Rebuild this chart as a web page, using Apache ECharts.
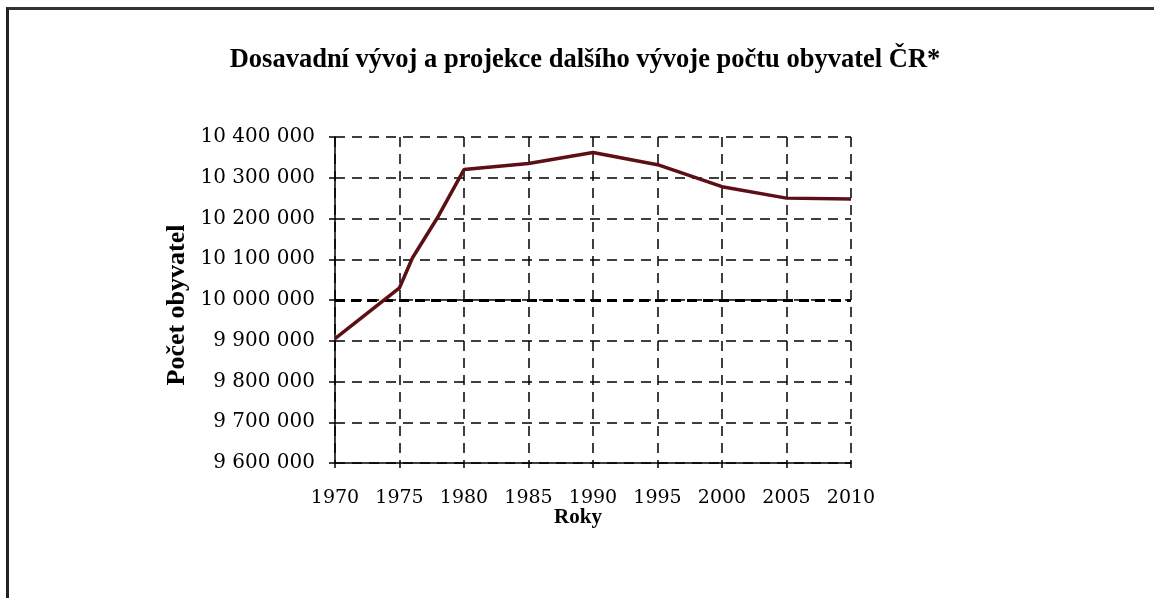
<!DOCTYPE html>
<html>
<head>
<meta charset="utf-8">
<script src="https://cdn.jsdelivr.net/npm/echarts@6/dist/echarts.min.js"></script>
<style>
  html, body { margin: 0; padding: 0; background: #fff; overflow: hidden; }
  #frame {
    position: absolute; left: 6px; top: 7px; width: 2000px; height: 2000px;
    border-left: 3px solid #222; border-top: 3px solid #333;
  }
  #chart { position: absolute; left: 0; top: 0; width: 1154px; height: 598px; }
</style>
</head>
<body>
<div id="frame"></div>
<div id="chart"></div>
<script>
// Chart data
var years = [1970, 1975, 1976, 1978, 1980, 1985, 1990, 1995, 2000, 2005, 2010];
var population = [9905000, 10030000, 10103000, 10205000, 10320000, 10335000,
                  10362000, 10332000, 10278000, 10250000, 10248000];
var yTicks = [9600000, 10400000, 100000];   // min, max, step
var xTicks = [1970, 2010, 5];
var milestone = 10000000;

var titleText = 'Dosavadní vývoj a projekce dalšího vývoje počtu obyvatel ČR*';
var yName = 'Počet obyvatel';
var xName = 'Roky';

// Thousands separated by spaces
function fmt(v) {
  return String(v).replace(/\B(?=(\d{3})+(?!\d))/g, ' ');
}

var points = years.map(function(y, i) { return [y, population[i]]; });

var myChart = echarts.init(document.getElementById('chart'));

var gridDash = { color: '#000', width: 1.5, type: [10, 7] };
var serif = 'DejaVu Serif';

var chartOptions = {
  animation: false,
  title: {
    text: titleText,
    left: 580,
    top: 42,
    textAlign: 'center',
    textStyle: {
      fontFamily: 'Liberation Serif',
      fontWeight: 'bold',
      fontSize: 26.5,
      color: '#000'
    }
  },
  grid: { left: 335, right: 303, top: 137, bottom: 135 },
  xAxis: {
    type: 'value',
    min: xTicks[0],
    max: xTicks[1],
    interval: xTicks[2],
    name: xName,
    nameLocation: 'middle',
    nameGap: 44,
    nameMoveOverlap: false,
    nameTextStyle: {
      fontFamily: 'Liberation Serif', fontWeight: 'bold', fontSize: 21, color: '#000',
      padding: [0, 30, 0, 0]
    },
    axisLine: { lineStyle: { color: '#000', width: 1.5 } },
    axisTick: { show: true, length: 5, lineStyle: { color: '#000', width: 1.5 } },
    axisLabel: {
      fontFamily: serif, fontSize: 19, color: '#000', margin: 26,
      formatter: function(v) { return String(v); }
    },
    splitLine: { show: true, lineStyle: gridDash }
  },
  yAxis: {
    type: 'value',
    min: yTicks[0],
    max: yTicks[1],
    interval: yTicks[2],
    name: yName,
    nameLocation: 'middle',
    nameGap: 145,
    nameRotate: 90,
    nameTextStyle: {
      fontFamily: 'Liberation Serif', fontWeight: 'bold', fontSize: 26, color: '#000',
      padding: [0, 10, 0, 0]
    },
    axisLine: { show: true, lineStyle: { color: '#000', width: 1.5 } },
    axisTick: { show: true, length: 6, lineStyle: { color: '#000', width: 1.5 } },
    axisLabel: {
      fontFamily: serif, fontSize: 20, color: '#000', margin: 20,
      formatter: fmt
    },
    splitLine: { show: true, lineStyle: gridDash }
  },
  series: [{
    type: 'line',
    data: points,
    showSymbol: false,
    lineStyle: { color: '#5c0f14', width: 3.5 },
    z: 5,
    markLine: {
      silent: true,
      symbol: 'none',
      label: { show: false },
      lineStyle: { color: '#000', width: 3, type: [10, 6] },
      data: [{ yAxis: milestone }],
      z: 3
    }
  }]
};

myChart.setOption(chartOptions);
</script>
</body>
</html>
